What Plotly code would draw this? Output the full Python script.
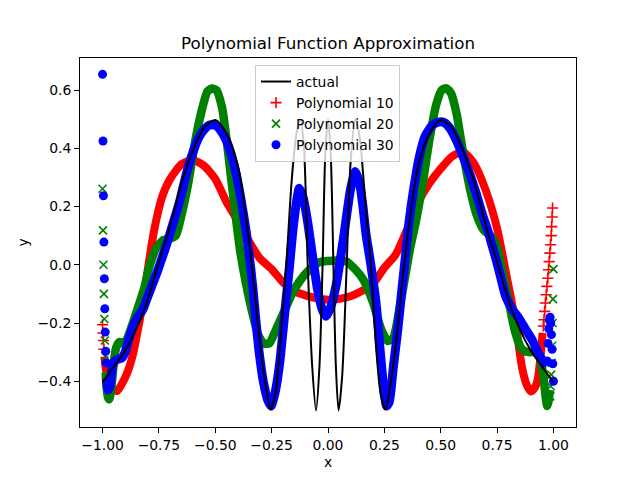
import plotly.graph_objects as go

# actual function
actual_x = [-1.0, -0.95, -0.9, -0.85, -0.8, -0.75, -0.7, -0.65, -0.6, -0.55, -0.5, -0.45, -0.4, -0.36,
            -0.33, -0.3, -0.275, -0.255, -0.235, -0.21, -0.185, -0.16, -0.14, -0.124, -0.108, -0.09,
            -0.07, -0.053, -0.038, -0.024, -0.012, 0.0, 0.012, 0.024, 0.035, 0.047, 0.063, 0.083, 0.1,
            0.121, 0.14, 0.165, 0.19, 0.215, 0.235, 0.255, 0.275, 0.3, 0.33, 0.36, 0.4, 0.45, 0.5,
            0.55, 0.6, 0.65, 0.7, 0.75, 0.8, 0.85, 0.9, 0.95, 1.0]
actual_y = [-0.404, -0.35, -0.295, -0.22, -0.12, 0.01, 0.135, 0.28, 0.39, 0.47, 0.497, 0.45, 0.34, 0.14,
            -0.055, -0.28, -0.42, -0.497, -0.45, -0.25, 0.0, 0.3, 0.45, 0.5, 0.42, 0.0,
            -0.35, -0.5, -0.35, 0.0, 0.38, 0.5, 0.38, 0.0, -0.35, -0.5, -0.38, 0.0, 0.35,
            0.5, 0.44, 0.22, 0.0, -0.3, -0.45, -0.497, -0.42, -0.28, -0.055, 0.14, 0.34, 0.45, 0.497,
            0.47, 0.39, 0.28, 0.135, 0.01, -0.12, -0.22, -0.295, -0.35, -0.404]

# polynomial 10 (dense band + loose end points)
p10_x = [-0.992, -0.985, -0.975, -0.955, -0.935, -0.915, -0.89, -0.866, -0.85, -0.835, -0.82, -0.8, -0.78,
         -0.76, -0.735, -0.7, -0.65, -0.6, -0.55, -0.5, -0.45, -0.4, -0.35, -0.3, -0.25, -0.2, -0.15,
         -0.1, -0.05, 0.0, 0.05, 0.1, 0.15, 0.2, 0.25, 0.3, 0.35, 0.4, 0.45, 0.5, 0.55, 0.6, 0.65, 0.7,
         0.75, 0.79, 0.83, 0.86, 0.88, 0.9, 0.915, 0.93, 0.942, 0.952]
p10_y = [-0.315, -0.36, -0.4, -0.428, -0.433, -0.41, -0.37, -0.31, -0.25, -0.19, -0.12, -0.02, 0.08,
         0.16, 0.235, 0.295, 0.345, 0.36, 0.34, 0.295, 0.215, 0.15, 0.08, 0.02, -0.015, -0.06, -0.09,
         -0.105, -0.115, -0.12, -0.117, -0.108, -0.09, -0.065, -0.01, 0.035, 0.12, 0.215, 0.28, 0.33,
         0.372, 0.388, 0.345, 0.255, 0.125, -0.03, -0.19, -0.35, -0.41, -0.435, -0.425, -0.395, -0.32,
         -0.234]
p10_tail_x = [-1.0, -0.998, -0.996, -0.994, 0.955, 0.958, 0.961, 0.964, 0.968, 0.971, 0.975, 0.978,
              0.981, 0.984, 0.987, 0.99, 0.992, 0.994, 0.996]
p10_tail_y = [-0.206, -0.234, -0.26, -0.29, -0.21, -0.189, -0.16, -0.131, -0.103, -0.074, -0.046, -0.017,
              0.011, 0.04, 0.069, 0.1, 0.131, 0.164, 0.195]

# polynomial 20
p20_x = [-0.986, -0.982, -0.976, -0.97, -0.962, -0.952, -0.94, -0.925, -0.91, -0.895, -0.87, -0.84, -0.815,
         -0.79, -0.76, -0.73, -0.7, -0.675, -0.65, -0.62, -0.59, -0.56, -0.535, -0.515, -0.495, -0.47,
         -0.45, -0.43, -0.41, -0.39, -0.365, -0.34, -0.31, -0.285, -0.26, -0.235, -0.2, -0.16, -0.12,
         -0.08, -0.04, 0.0, 0.04, 0.08, 0.12, 0.16, 0.2, 0.235, 0.265, 0.29, 0.315, 0.34, 0.365, 0.39,
         0.42, 0.45, 0.48, 0.505, 0.525, 0.545, 0.57, 0.6, 0.63, 0.66, 0.69, 0.72, 0.745, 0.77, 0.8,
         0.83, 0.86, 0.89, 0.92, 0.94, 0.955, 0.965, 0.972, 0.978, 0.984]
p20_y = [-0.37, -0.42, -0.455, -0.462, -0.43, -0.35, -0.285, -0.265, -0.27, -0.26, -0.21, -0.14, -0.08,
         0.0, 0.06, 0.085, 0.09, 0.1, 0.17, 0.28, 0.42, 0.53, 0.595, 0.605, 0.6, 0.54,
         0.43, 0.3, 0.17, 0.05, -0.06, -0.15, -0.24, -0.27, -0.27, -0.23, -0.17, -0.1, -0.05,
         -0.015, 0.008, 0.013, 0.015, 0.012, -0.015, -0.055, -0.13, -0.22, -0.262, -0.25, -0.16, -0.05, 0.06, 0.15,
         0.28, 0.43, 0.55, 0.6, 0.606, 0.59, 0.52, 0.38, 0.26, 0.17, 0.12, 0.1, 0.07, -0.01, -0.12,
         -0.23, -0.29, -0.3, -0.3, -0.32, -0.38, -0.45, -0.485, -0.47, -0.43]
p20_tail_x = [-1.0, -0.998, -0.996, -0.994, -0.992, -0.99, -0.988, 0.986, 0.988, 0.99, 0.992, 0.994,
              0.996, 0.998, 1.0]
p20_tail_y = [0.261, 0.118, 0.0, -0.1, -0.186, -0.26, -0.314, -0.452, -0.417, -0.377, -0.337, -0.278,
              -0.2, -0.118, -0.015]

# polynomial 30
p30_x = [-0.982, -0.976, -0.968, -0.96, -0.95, -0.935, -0.915, -0.9, -0.885, -0.866, -0.845, -0.822, -0.8,
         -0.78, -0.76, -0.74, -0.72, -0.7, -0.68, -0.659, -0.637, -0.615, -0.593, -0.571, -0.548, -0.526,
         -0.497, -0.475, -0.452, -0.43, -0.408, -0.386, -0.364, -0.349, -0.334, -0.32, -0.305, -0.287,
         -0.268, -0.253, -0.235, -0.216, -0.2, -0.186, -0.17, -0.157, -0.14, -0.127, -0.11, -0.095,
         -0.083, -0.065, -0.046, -0.025, -0.009, 0.01, 0.035, 0.055, 0.072, 0.1, 0.121, 0.14, 0.155,
         0.168, 0.19, 0.213, 0.232, 0.248, 0.26, 0.272, 0.29, 0.31, 0.327, 0.345, 0.36, 0.38, 0.405,
         0.43, 0.464, 0.49, 0.516, 0.54, 0.568, 0.6, 0.627, 0.655, 0.686, 0.71, 0.73, 0.745, 0.765,
         0.789, 0.815, 0.848, 0.875, 0.907, 0.93, 0.952, 0.965]
p30_y = [-0.39, -0.43, -0.42, -0.37, -0.335, -0.325, -0.32, -0.3, -0.26, -0.215, -0.18, -0.155, -0.11,
         -0.07, -0.03, 0.015, 0.06, 0.11, 0.16, 0.215, 0.285, 0.349, 0.4, 0.44, 0.465, 0.48,
         0.478, 0.46, 0.429, 0.38, 0.315, 0.225, 0.12, 0.03, -0.074, -0.19, -0.303, -0.4,
         -0.463, -0.485, -0.44, -0.349, -0.23, -0.12, 0.0, 0.109, 0.215, 0.263, 0.23, 0.17,
         0.109, 0.01, -0.086, -0.155, -0.177, -0.15, -0.074, 0.02, 0.109, 0.26, 0.32, 0.28, 0.2,
         0.109, 0.0, -0.13, -0.3, -0.43, -0.485, -0.47, -0.35, -0.22, -0.09, 0.04, 0.15, 0.26, 0.37,
         0.44, 0.48, 0.49, 0.488, 0.47, 0.43, 0.37, 0.315, 0.25, 0.17, 0.115, 0.06, 0.02, -0.04,
         -0.11, -0.15, -0.185, -0.22, -0.26, -0.3, -0.33, -0.35]
p30_tail_x = [-1.0, -0.998, -0.996, -0.994, -0.992, -0.99, -0.988, -0.986, -0.984, 0.972, 0.976, 0.979,
              0.982, 0.985, 0.988, 0.991, 0.994, 0.997, 1.0]
p30_tail_y = [0.654, 0.425, 0.237, 0.078, -0.048, -0.151, -0.231, -0.297, -0.337, -0.33, -0.27, -0.22,
              -0.19, -0.18, -0.2, -0.24, -0.29, -0.34, -0.4]

x_ticks = [-1.0, -0.75, -0.5, -0.25, 0.0, 0.25, 0.5, 0.75, 1.0]
y_ticks = [-0.4, -0.2, 0.0, 0.2, 0.4, 0.6]

FONT = "DejaVu Sans"
# the page body has an 8px margin, so the figure is drawn 8px in from the window corner
PAGE_PAD = 8
FIG_W, FIG_H = 640 - PAGE_PAD, 480 - PAGE_PAD
PLOT_W, PLOT_H = 496, 369


def add_poly(fig, name, xs, ys, tail_x, tail_y, color, symbol, size, band_width, rank):
    # thick line stands in for the solid band the dense markers make
    fig.add_trace(go.Scatter(x=xs, y=ys, mode="lines",
                             line=dict(color=color, width=band_width, shape="spline", smoothing=0.6),
                             legendgroup=name, showlegend=False, hoverinfo="skip"))
    marker = dict(color=color, size=size, symbol=symbol)
    if symbol != "circle":
        marker["line"] = dict(color=color, width=1.6)
    fig.add_trace(go.Scatter(x=tail_x, y=tail_y, mode="markers", marker=marker,
                             name=name, legendgroup=name, legendrank=rank))


def main():
    fig = go.Figure()

    add_poly(fig, "Polynomial 10", p10_x, p10_y, p10_tail_x, p10_tail_y, "red", "cross-thin", 8, 8, 2)
    add_poly(fig, "Polynomial 20", p20_x, p20_y, p20_tail_x, p20_tail_y, "green", "x-thin", 8, 8.5, 3)
    add_poly(fig, "Polynomial 30", p30_x, p30_y, p30_tail_x, p30_tail_y, "blue", "circle", 9, 9, 4)

    fig.add_trace(go.Scatter(x=actual_x, y=actual_y, mode="lines", name="actual",
                             line=dict(color="black", width=2, shape="spline", smoothing=0.8),
                             legendgroup="actual", legendrank=1))

    axis_style = dict(showgrid=False, zeroline=False, showline=True, linecolor="black", linewidth=1,
                      mirror=True, ticks="outside", ticklen=5, tickwidth=1, tickcolor="black",
                      automargin=False, tickfont=dict(family=FONT, size=13.9, color="black"))

    fig.update_layout(
        width=FIG_W, height=FIG_H,
        margin=dict(l=80 - PAGE_PAD, r=640 - 576, t=58 - PAGE_PAD, b=480 - 427),
        paper_bgcolor="white", plot_bgcolor="white",
        font=dict(family=FONT, size=13.9, color="black"),
        title=dict(text="Polynomial Function Approximation", x=0.5, xref="paper", xanchor="center",
                   y=1 - (43 - PAGE_PAD) / FIG_H, yref="container", yanchor="middle",
                   font=dict(family=FONT, size=16.7, color="black")),
        xaxis=dict(range=[-1.1, 1.1], tickvals=x_ticks, tickformat=".2f", **axis_style),
        yaxis=dict(range=[-0.557, 0.71], tickvals=y_ticks, tickformat=".1f", **axis_style),
        legend=dict(x=(255 - 80) / PLOT_W, y=(427 - 65) / PLOT_H, xanchor="left", yanchor="top",
                    bgcolor="rgba(255,255,255,0.8)", bordercolor="#cccccc", borderwidth=1,
                    tracegroupgap=0, font=dict(family=FONT, size=13.9, color="black")),
        annotations=[
            dict(text="x", x=0.5, xref="paper", y=-(462 - 427) / PLOT_H, yref="paper", showarrow=False,
                 xanchor="center", yanchor="middle"),
            dict(text="y", x=-(80 - 22) / PLOT_W, xref="paper", y=0.5, yref="paper", showarrow=False,
                 textangle=-90, xanchor="center", yanchor="middle"),
        ],
        showlegend=True,
    )

    fig.write_html("out.html")


if __name__ == "__main__":
    main()
